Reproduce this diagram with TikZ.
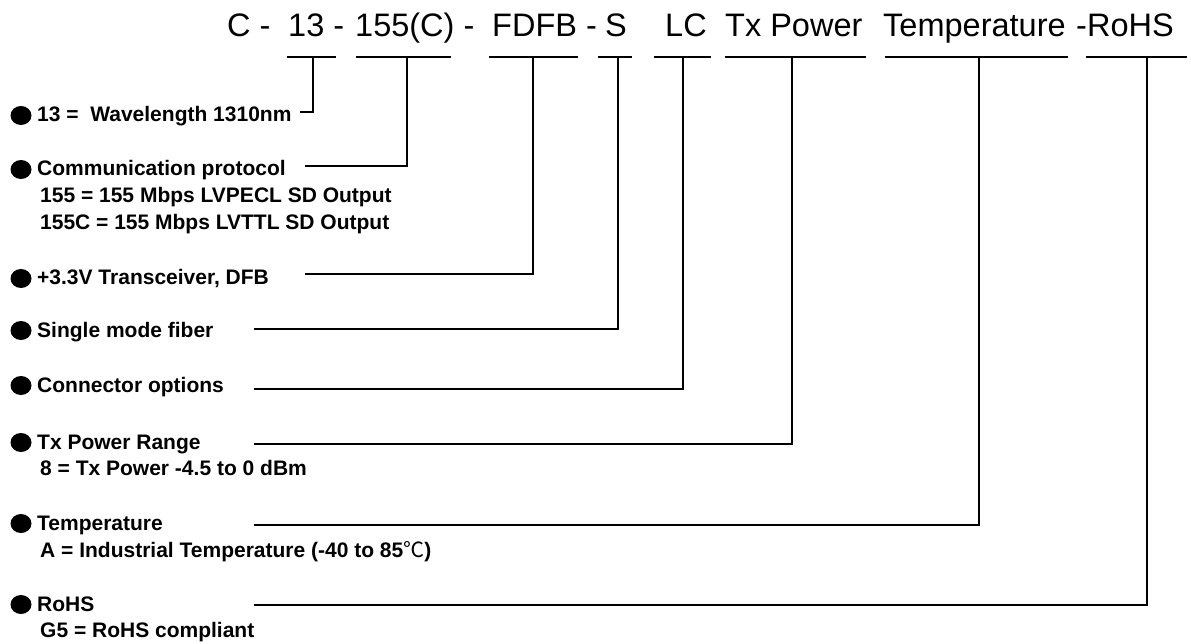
\documentclass[tikz,border=0pt]{standalone}
\usepackage{fontspec}
\setmainfont{Liberation Sans}
\newfontfamily\cjk{Noto Sans CJK SC}

\begin{document}
\begin{tikzpicture}[x=1pt, y=-1pt,
    code/.style ={anchor=base west, inner sep=0pt, font=\fontsize{32.5}{36}\selectfont},
    spec/.style ={anchor=base west, inner sep=0pt, font=\fontsize{21}{25}\selectfont\bfseries},
    bar/.style ={line width=1.2pt},
    wire/.style ={line width=1.2pt}]
   \useasboundingbox (0,0) rectangle (1191,644);

   % part number
   \node[code] (C)    at (227,37)  {C -};
   \node[code] (N13)  at (288,37)  {13 -};
   \node[code] (N155) at (355,37)  {155(C) -};
   \node[code] (FDFB) at (492,37)  {FDFB -};
   \node[code] (S)    at (605,37)  {S};
   \node[code] (LC)   at (665,37)  {LC};
   \node[code] (Tx)   at (725,37)  {Tx Power};
   \node[code] (Temp) at (883,37)  {Temperature};
   \node[code] (RoHS) at (1076,37) {-RoHS};

   % underlines
   \draw[bar] (287,57)  -- (336,57);
   \draw[bar] (356,57)  -- (451,57);
   \draw[bar] (489,57)  -- (578,57);
   \draw[bar] (598,57)  -- (632,57);
   \draw[bar] (654,57)  -- (711,57);
   \draw[bar] (725,57)  -- (866,57);
   \draw[bar] (885,57)  -- (1068,57);
   \draw[bar] (1086,57) -- (1187,57);

   \coordinate (b13)   at (313,57);
   \coordinate (b155)  at (407,57);
   \coordinate (bFDFB) at (533,57);
   \coordinate (bS)    at (618,57);
   \coordinate (bLC)   at (683,57);
   \coordinate (bTx)   at (792,57);
   \coordinate (bTemp) at (979,57);
   \coordinate (bRoHS) at (1147,57);

   % descriptions
   \node[spec] (d13)   at (37,122) {13 =\ \ Wavelength 1310nm};
   \node[spec] (d155)  at (37,176) {Communication protocol};
   \node[spec] (d155a) at (40,203) {155 = 155 Mbps LVPECL SD Output};
   \node[spec] (d155b) at (40,230) {155C = 155 Mbps LVTTL SD Output};
   \node[spec] (dFDFB) at (37,285) {+3.3V Transceiver, DFB};
   \node[spec] (dS)    at (37,337) {Single mode fiber};
   \node[spec] (dLC)   at (37,392) {Connector options};
   \node[spec] (dTx)   at (37,449) {Tx Power Range};
   \node[spec] (dTxa)  at (40,475) {8 = Tx Power -4.5 to 0 dBm};
   \node[spec] (dTemp) at (37,530) {Temperature};
   \node[spec] (dTempa) at (40,557) {A = Industrial Temperature (-40 to 85{\cjk\mdseries ℃})};
   \node[spec] (dRoHS) at (37,611) {RoHS};
   \node[spec] (dRoHSa) at (40,637) {G5 = RoHS compliant};

   % bullets
   \fill (21,115.5) ellipse (10.5 and 9.5);
   \fill (21,169.5) ellipse (10.5 and 9.5);
   \fill (21,278.5) ellipse (10.5 and 9.5);
   \fill (21,330.5) ellipse (10.5 and 9.5);
   \fill (21,385.5) ellipse (10.5 and 9.5);
   \fill (21,442.5) ellipse (10.5 and 9.5);
   \fill (21,523.5) ellipse (10.5 and 9.5);
   \fill (21,604.5) ellipse (10.5 and 9.5);

   % leader lines
   \coordinate (s13)   at (300,112);
   \coordinate (s155)  at (305,166);
   \coordinate (sFDFB) at (305,274);
   \coordinate (sS)    at (254,329);
   \coordinate (sLC)   at (254,389);
   \coordinate (sTx)   at (254,444);
   \coordinate (sTemp) at (254,525);
   \coordinate (sRoHS) at (254,605);

   \draw[wire] (s13)   -| (b13);
   \draw[wire] (s155)  -| (b155);
   \draw[wire] (sFDFB) -| (bFDFB);
   \draw[wire] (sS)    -| (bS);
   \draw[wire] (sLC)   -| (bLC);
   \draw[wire] (sTx)   -| (bTx);
   \draw[wire] (sTemp) -| (bTemp);
   \draw[wire] (sRoHS) -| (bRoHS);

\end{tikzpicture}
\end{document}
